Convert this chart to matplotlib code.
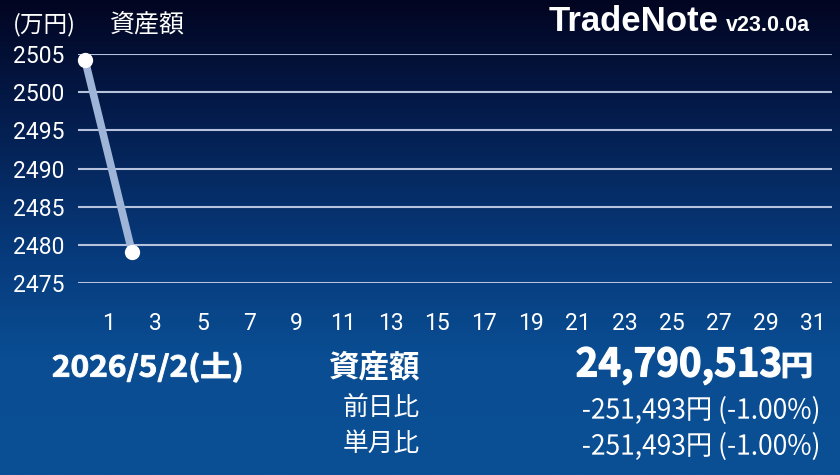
import matplotlib
matplotlib.use("Agg")
import matplotlib.pyplot as plt
import numpy as np
from matplotlib.colors import LinearSegmentedColormap
from matplotlib.textpath import TextPath
from matplotlib.font_manager import FontProperties
from matplotlib.patches import PathPatch
from matplotlib.transforms import Affine2D, IdentityTransform

# data (万円)
days = [0, 2]
assets = [2504.2, 2479.05]
yticks = [2475, 2480, 2485, 2490, 2495, 2500, 2505]
xticks = list(range(1, 32, 2))

date_label = "2026/5/2(土)"
total_label = "24,790,513"
day_diff = "-251,493円 (-1.00%)"
month_diff = "-251,493円 (-1.00%)"

W, H = 840, 475
fig = plt.figure(figsize=(W / 100, H / 100), dpi=100)

def fx(px):
    return px / W

def fy(py):
    return 1 - py / H

# gradient background
bg = fig.add_axes([0, 0, 1, 1], zorder=-10)
bg.axis("off")
cmap = LinearSegmentedColormap.from_list(
    "bg", [(0.0, "#020521"), (0.25, "#041d4e"), (0.55, "#073c7e"), (0.75, "#0a4d92"), (1.0, "#0b4f94")])
grad = np.linspace(0, 1, 256).reshape(-1, 1)
bg.imshow(grad, aspect="auto", cmap=cmap, extent=[0, 1, 0, 1])

ax = fig.add_axes([fx(78), fy(283), fx(832) - fx(78), fy(54) - fy(283)])
ax.patch.set_alpha(0)
for s in ax.spines.values():
    s.set_visible(False)

ax.set_ylim(2475, 2505)
ax.set_xlim(-0.3, 31.8)
ax.set_yticks(yticks)
ax.set_xticks(xticks)
ax.grid(axis="y", color="#b7c2dc", lw=1.5)
ax.set_axisbelow(True)
ax.tick_params(length=0, colors="white", labelsize=16.5)
ax.tick_params(axis="y", pad=10)
ax.tick_params(axis="x", pad=21)
for lab in ax.get_xticklabels() + ax.get_yticklabels():
    lab.set_fontfamily("Roboto")

ax.plot(days, assets, color="#9fb5d8", lw=5.5, solid_capstyle="round", zorder=3, clip_on=False)
ax.plot(days, assets, "o", color="white", ms=10, zorder=4, clip_on=False)

cjk = ["Noto Sans CJK JP", "DejaVu Sans"]


def fit_text(s, x0, x1, top, bottom, ref="0", weight="normal", lw=0):
    # condensed text: ink of s spans x0..x1, ink of ref spans top..bottom (pixels)
    prop = FontProperties(family="Noto Sans CJK JP", weight=weight)
    path = TextPath((0, 0), s, size=100, prop=prop)
    ext = path.get_extents()
    rext = TextPath((0, 0), ref, size=100, prop=prop).get_extents()
    sx = (x1 - x0) / ext.width
    sy = (bottom - top) / rext.height
    tr = Affine2D().translate(-ext.x0, -rext.y0).scale(sx, sy).translate(x0, H - bottom)
    fig.add_artist(PathPatch(path, transform=tr + IdentityTransform(), fc="white",
                             ec="white", lw=lw))


fig.text(fx(13), fy(25), "(万円)", color="white", fontsize=17, family=cjk, va="center")
fig.text(fx(110), fy(24), "資産額", color="white", fontsize=18, family=cjk, va="center")

fig.text(fx(549), fy(31), "TradeNote", color="white", fontsize=25, weight="bold",
         family="Liberation Sans", va="baseline")
fig.text(fx(726), fy(31), "v23.0.0a", color="white", fontsize=15.5, weight="bold",
         family="Liberation Sans", va="baseline")

fit_text(date_label, 53, 241, 355, 377, weight="bold", lw=0.7)
fig.text(fx(420), fy(367), "資産額", color="white", fontsize=22, weight="bold", family=cjk,
         va="center", ha="right")
fit_text(total_label, 577, 780, 347, 377, weight="bold", lw=0.9)
fit_text("円", 783, 811, 353, 378, ref="円", weight="bold", lw=0.6)

fig.text(fx(420), fy(408), "前日比", color="white", fontsize=18.5, family=cjk, va="center", ha="right")
fit_text(day_diff, 583, 818, 398, 419)
fig.text(fx(420), fy(444), "単月比", color="white", fontsize=18.5, family=cjk, va="center", ha="right")
fit_text(month_diff, 583, 818, 434, 455)

fig.savefig("out.png", dpi=100)
